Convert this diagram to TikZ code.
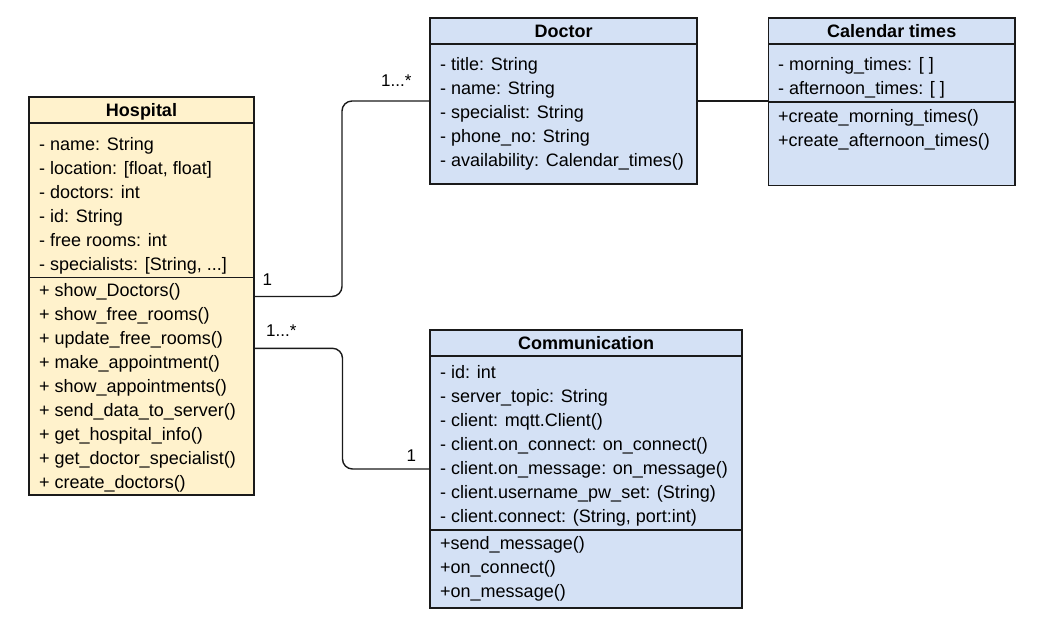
\documentclass[tikz,border=0pt]{standalone}
\usepackage{fontspec}
\setmainfont{Liberation Sans}
\usetikzlibrary{calc}
\definecolor{yel}{HTML}{FFF2CC}
\definecolor{blu}{HTML}{D4E1F5}
\definecolor{edge}{HTML}{1A1A1A}
\tikzset{
  classbox/.style={draw=edge, line width=1.4pt, anchor=north west, inner sep=0pt, outer sep=0pt},
  txt/.style={anchor=base west, inner sep=0pt, font=\fontsize{18}{20}\selectfont},
  hdr/.style={anchor=base, inner sep=0pt, font=\fontsize{18}{20}\selectfont\bfseries},
  lbl/.style={anchor=base west, inner sep=0pt, font=\fontsize{17}{19}\selectfont},
  divider/.style={draw=edge, line width=1.4pt},
  conn/.style={draw=edge, line width=1.4pt, rounded corners=10pt},
}
\begin{document}
\begin{tikzpicture}[x=1pt, y=-1pt]
\useasboundingbox (0,0) rectangle (1038,625);

% Hospital
\node[classbox, fill=yel, minimum width=225pt, minimum height=398pt] (hosp) at (29,97) {};
\draw[divider] (29,123) -- (254,123);
\draw[divider] (29,277.5) -- (254,277.5);
\node[hdr] (hosph) at (141.5,116) {Hospital};
\node[txt] (h1) at (39,150) {- name: String};
\node[txt] (h2) at (39,174) {- location: [float, float]};
\node[txt] (h3) at (39,198) {- doctors: int};
\node[txt] (h4) at (39,222) {- id: String};
\node[txt] (h5) at (39,246) {- free rooms: int};
\node[txt] (h6) at (39,270) {- specialists: [String, ...]};
\node[txt] (hm1) at (39,296) {+ show\_Doctors()};
\node[txt] (hm2) at (39,320) {+ show\_free\_rooms()};
\node[txt] (hm3) at (39,344) {+ update\_free\_rooms()};
\node[txt] (hm4) at (39,368) {+ make\_appointment()};
\node[txt] (hm5) at (39,392) {+ show\_appointments()};
\node[txt] (hm6) at (39,416) {+ send\_data\_to\_server()};
\node[txt] (hm7) at (39,440) {+ get\_hospital\_info()};
\node[txt] (hm8) at (39,464) {+ get\_doctor\_specialist()};
\node[txt] (hm9) at (39,488) {+ create\_doctors()};

% Doctor
\node[classbox, fill=blu, minimum width=267pt, minimum height=166pt] (doc) at (430,18) {};
\draw[divider] (430,44) -- (697,44);
\node[hdr] (doch) at (563.5,37) {Doctor};
\node[txt] (d1) at (440,70) {- title: String};
\node[txt] (d2) at (440,94) {- name: String};
\node[txt] (d3) at (440,118) {- specialist: String};
\node[txt] (d4) at (440,142) {- phone\_no: String};
\node[txt] (d5) at (440,166) {- availability: Calendar\_times()};

% Calendar times
\node[classbox, fill=blu, minimum width=246.5pt, minimum height=167.5pt] (cal) at (768.5,18) {};
\draw[divider] (768.5,44) -- (1015,44);
\draw[divider] (768.5,102) -- (1015,102);
\node[hdr] (calh) at (891.75,37) {Calendar times};
\node[txt] (c1) at (778,70) {- morning\_times: [ ]};
\node[txt] (c2) at (778,94) {- afternoon\_times: [ ]};
\node[txt] (cm1) at (778,122) {+create\_morning\_times()};
\node[txt] (cm2) at (778,146) {+create\_afternoon\_times()};

% Communication
\node[classbox, fill=blu, minimum width=312pt, minimum height=278pt] (comm) at (430,330) {};
\draw[divider] (430,356) -- (742,356);
\draw[divider] (430,530) -- (742,530);
\node[hdr] (commh) at (586,349) {Communication};
\node[txt] (k1) at (440,378.5) {- id: int};
\node[txt] (k2) at (440,402.5) {- server\_topic: String};
\node[txt] (k3) at (440,426.5) {- client: mqtt.Client()};
\node[txt] (k4) at (440,450.5) {- client.on\_connect: on\_connect()};
\node[txt] (k5) at (440,474.5) {- client.on\_message: on\_message()};
\node[txt] (k6) at (440,498.5) {- client.username\_pw\_set: (String)};
\node[txt] (k7) at (440,522.5) {- client.connect: (String, port:int)};
\node[txt] (km1) at (440,549) {+send\_message()};
\node[txt] (km2) at (440,573) {+on\_connect()};
\node[txt] (km3) at (440,597) {+on\_message()};

% Connectors
\coordinate (hA) at ($(hosp.north east)+(0,199.5)$);
\coordinate (hB) at ($(hosp.north east)+(0,251.3)$);
\draw[conn] (hA) -- (342,296.5) -- (342,101) -- (doc.west);
\draw[conn] (hB) -- (342.5,348.3) -- (342.5,469) -- (comm.west);
\draw[divider] (doc.east) -- (doc.east -| cal.west);

% Multiplicities
\node[lbl] (m1) at (262.5,285) {1};
\node[lbl] (m2) at (381,86) {1...*};
\node[lbl] (m3) at (266,336) {1...*};
\node[lbl] (m4) at (406.5,461) {1};
\end{tikzpicture}
\end{document}
